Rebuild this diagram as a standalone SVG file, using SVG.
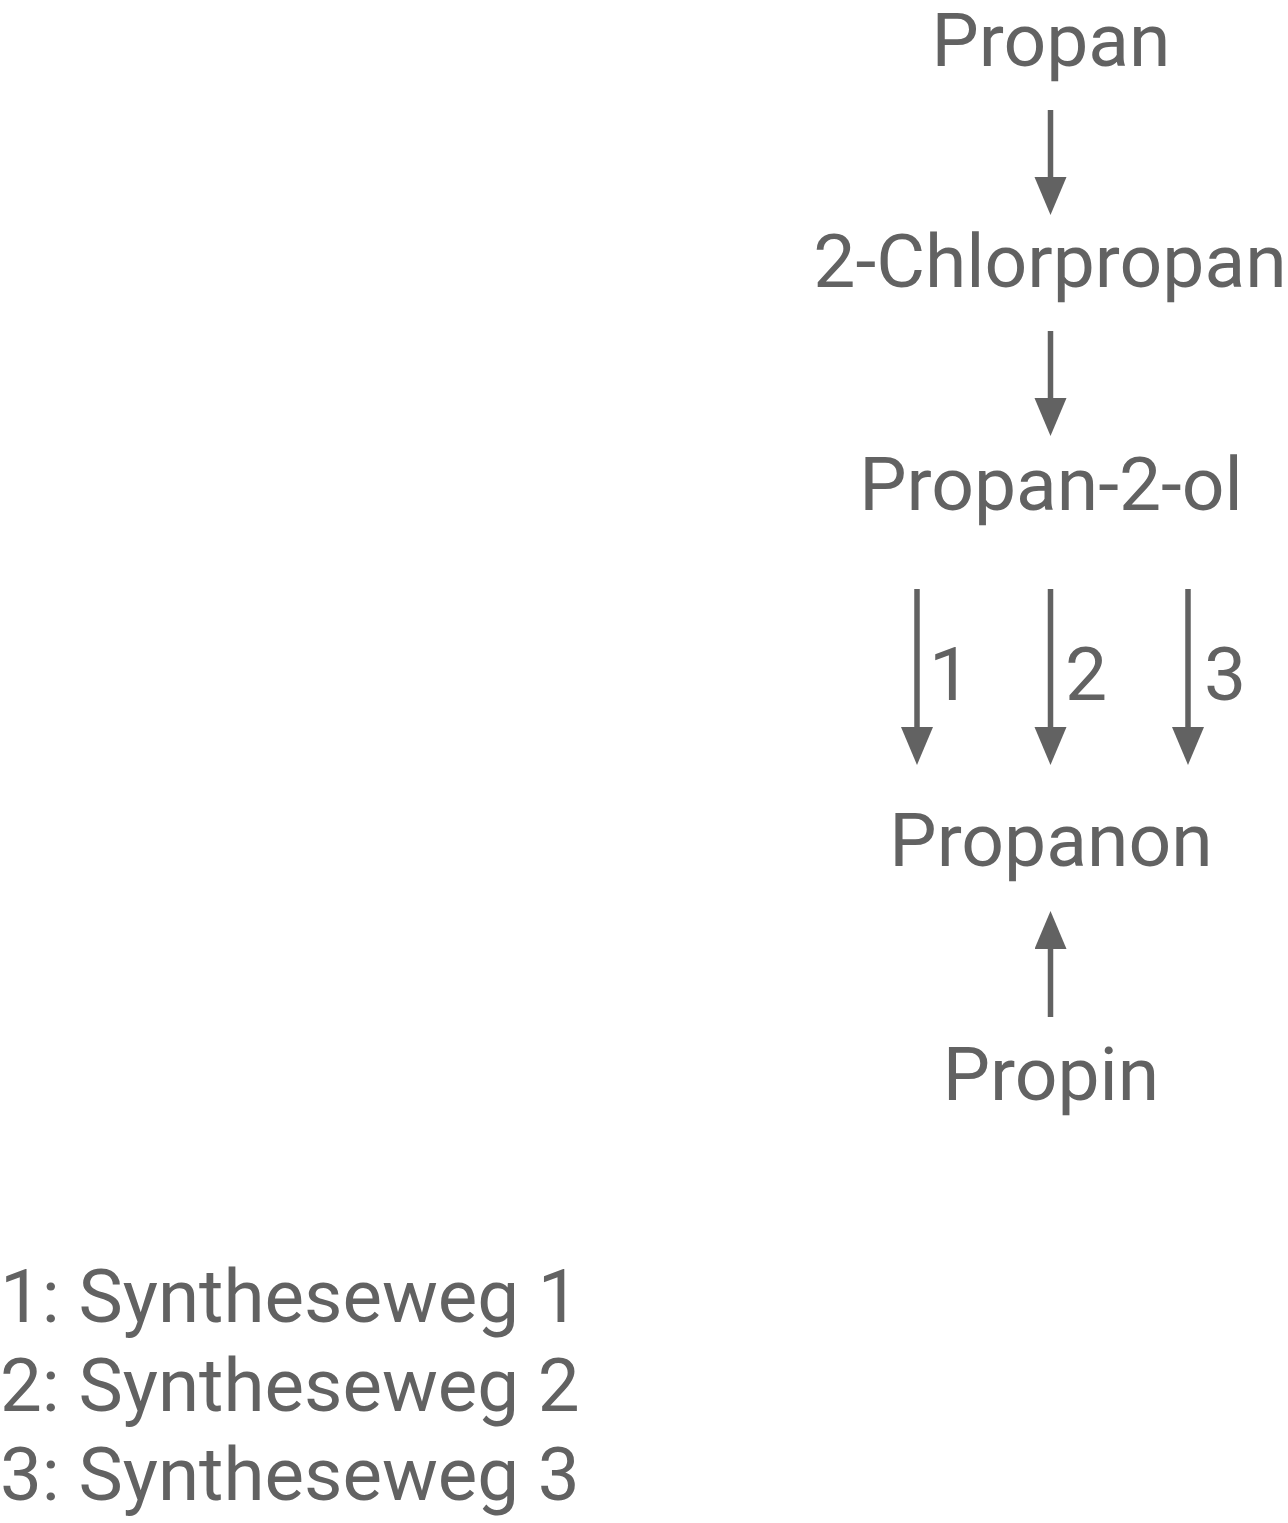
<svg xmlns="http://www.w3.org/2000/svg" width="1288" height="1523" viewBox="0 0 1288 1523">
  <style>
    .t { font-family: Roboto, "Liberation Sans", sans-serif; fill: #626262; }
    .node { font-size: 75px; text-anchor: middle; }
    .lbl { font-size: 75px; text-anchor: middle; }
    .leg { font-size: 74.5px; }
    .c { stroke: #626262; stroke-width: 5.5; fill: none; marker-end: url(#ah); }
  </style>
  <defs>
    <marker id="ah" markerUnits="userSpaceOnUse" markerWidth="40" markerHeight="34" refX="2" refY="16" orient="auto" viewBox="0 0 40 34">
      <path d="M0,0 L38,16 L0,32 Z" fill="#626262"/>
    </marker>
  </defs>
  <rect width="1288" height="1523" fill="#ffffff"/>
  <g id="connectors">
    <line class="c" x1="1050.5" y1="110" x2="1050.5" y2="179"/>
    <line class="c" x1="1050.5" y1="331" x2="1050.5" y2="400"/>
    <line class="c" x1="917" y1="589" x2="917" y2="729"/>
    <line class="c" x1="1050.5" y1="589" x2="1050.5" y2="729"/>
    <line class="c" x1="1188" y1="589" x2="1188" y2="729"/>
    <line class="c" x1="1050.5" y1="1017" x2="1050.5" y2="947"/>
    <text class="t lbl" x="950" y="700">1</text>
    <text class="t lbl" x="1086" y="700">2</text>
    <text class="t lbl" x="1225" y="700">3</text>
  </g>
  <g id="node-propan"><text class="t node" x="1051" y="66">Propan</text></g>
  <g id="node-chlorpropan"><text class="t node" x="1050" y="287">2-Chlorpropan</text></g>
  <g id="node-propan2ol"><text class="t node" x="1051" y="510">Propan-2-ol</text></g>
  <g id="node-propanon"><text class="t node" x="1051" y="866">Propanon</text></g>
  <g id="node-propin"><text class="t node" x="1051" y="1100">Propin</text></g>
  <g id="legend">
    <text class="t leg" x="0" y="1322">1: Syntheseweg 1</text>
    <text class="t leg" x="0" y="1411">2: Syntheseweg 2</text>
    <text class="t leg" x="0" y="1500">3: Syntheseweg 3</text>
  </g>
</svg>
